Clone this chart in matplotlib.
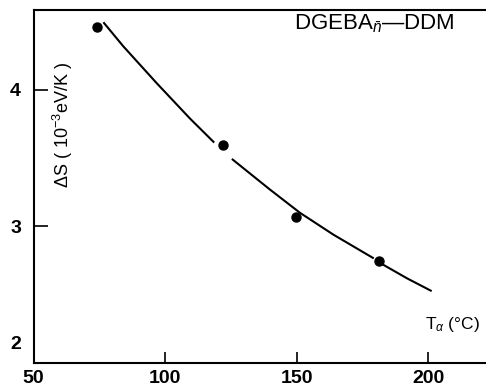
import matplotlib
matplotlib.use("Agg")
import matplotlib.pyplot as plt

plt.rcParams['font.family'] = ['Liberation Sans', 'DejaVu Sans']
plt.rcParams['mathtext.fontset'] = 'custom'
plt.rcParams['mathtext.rm'] = 'Liberation Sans'
plt.rcParams['mathtext.it'] = 'Liberation Sans:italic'

# ===== DATA =====
t_alpha = [74.0, 121.9, 149.8, 181.4]
delta_s = [4.46, 3.60, 3.07, 2.75]

# fitted curve (drawn broken around the points)
fit_a_x = [76.8, 84.1, 96.8, 109.5, 118.4]
fit_a_y = [4.49, 4.32, 4.05, 3.79, 3.62]
fit_b_x = [125.7, 139.9, 151.3, 164.0, 179.0]
fit_b_y = [3.49, 3.27, 3.10, 2.94, 2.77]
fit_c_x = [182.9, 192.0, 201.0]
fit_c_y = [2.72, 2.62, 2.53]

x_ticks = [50, 100, 150, 200]
y_ticks = [2, 3, 4]

# ===== GRAPH =====
fig = plt.figure(figsize=(4.86, 3.91), dpi=100)
ax = fig.add_axes([0.069, 0.0716, 0.931, 0.903])

for fx, fy in [(fit_a_x, fit_a_y), (fit_b_x, fit_b_y), (fit_c_x, fit_c_y)]:
    ax.plot(fx, fy, color='black', linewidth=1.5)
ax.plot(t_alpha, delta_s, 'o', color='black', markersize=6.5)

ax.set_xlim(50, 222)
ax.set_ylim(2, 4.586)
ax.set_xticks(x_ticks)
ax.set_yticks(y_ticks)
ax.set_xticklabels([str(v) for v in x_ticks], fontsize=14, fontweight='bold')
# the lowest y label sits a little above its tick, clear of the "50"
ax.set_yticklabels([''] + [str(v) for v in y_ticks[1:]], fontsize=14, fontweight='bold')
ax.annotate(str(y_ticks[0]), xy=(50, y_ticks[0]), xytext=(-9, 13),
            textcoords='offset points', ha='right', va='center',
            fontsize=14, fontweight='bold')
ax.tick_params(axis='x', direction='in', length=8, width=1.2, pad=5)
ax.tick_params(axis='y', direction='in', length=10, width=1.2, pad=9)
ax.spines['right'].set_visible(False)
for s in ['left', 'bottom', 'top']:
    ax.spines[s].set_linewidth(1.5)

ax.text(0.065, 0.674, r'$\Delta$S ( 10$^{-3}$eV/K )', transform=ax.transAxes,
        rotation=90, ha='center', va='center', fontsize=13)
ax.text(0.575, 0.992, r'DGEBA$_{\bar{n}}$—DDM', transform=ax.transAxes,
        ha='left', va='top', fontsize=16)
ax.text(0.865, 0.108, r'T$_\alpha$ (°C)', transform=ax.transAxes,
        ha='left', va='center', fontsize=12.5)

plt.savefig('out.png', dpi=100)
